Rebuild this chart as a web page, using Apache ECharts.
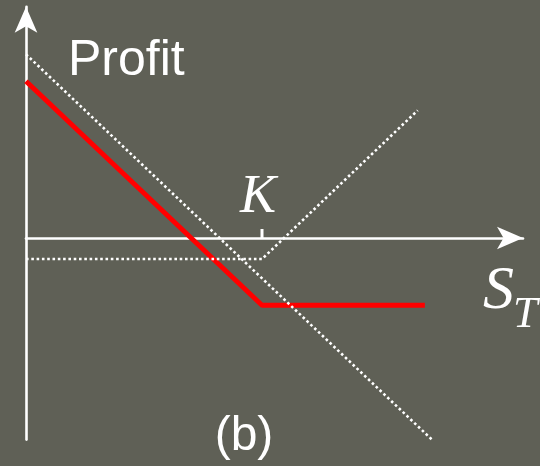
<!DOCTYPE html>
<html>
<head>
<meta charset="utf-8">
<script src="https://cdn.jsdelivr.net/npm/echarts@6/dist/echarts.min.js"></script>
<style>
    html, body { margin: 0; padding: 0; background: #5f6056; }
    #main { width: 540px; height: 466px; }
</style>
</head>
<body>
<div id="main"></div>
<script>
// strike price and the three payoff lines (S_T, profit)
const K = 50;
const stockS = [0, 86];
const stockP = [41, -45];
const callS = [0, 50, 83];
const callP = [-4.7, -4.7, 28.5];
const netS = [0, 50, 84.5];
const netP = [35, -15, -15];
const tickP = [0, 2];

const xMin = 0, xMax = 105.3;
const yMin = -45, yMax = 51.6;
const pxX = 4.72, pxY = 4.48;

const pairs = (xs, ys) => xs.map((x, i) => [x, ys[i]]);

const dotted = {
    color: '#ffffff',
    width: 2.6,
    type: [2.6, 2.7]
};

let chart = echarts.init(document.getElementById('main'));

let option = {
    backgroundColor: '#5f6056',
    animation: false,
    grid: {
        left: 26,
        top: 238 - yMax * pxY,
        width: (xMax - xMin) * pxX,
        height: (yMax - yMin) * pxY
    },
    xAxis: {
        type: 'value',
        min: xMin,
        max: xMax,
        axisLine: {
            onZero: true,
            symbol: ['none', 'arrow'],
            symbolSize: [17, 26],
            lineStyle: { color: '#ffffff', width: 2.6 }
        },
        axisTick: { show: false },
        axisLabel: { show: false },
        splitLine: { show: false }
    },
    yAxis: {
        type: 'value',
        min: yMin,
        max: yMax,
        axisLine: {
            show: true,
            onZero: false,
            symbol: ['none', 'arrow'],
            symbolSize: [17, 26],
            lineStyle: { color: '#ffffff', width: 2.6 }
        },
        axisTick: { show: false },
        axisLabel: { show: false },
        splitLine: { show: false }
    },
    series: [
        {
            type: 'line',
            data: pairs(netS, netP),
            showSymbol: false,
            lineStyle: { color: '#ff0000', width: 5 }
        },
        {
            type: 'line',
            data: pairs(stockS, stockP),
            showSymbol: false,
            lineStyle: dotted
        },
        {
            type: 'line',
            data: pairs(callS, callP),
            showSymbol: false,
            lineStyle: dotted
        },
        {
            type: 'line',
            data: pairs([K, K], tickP),
            showSymbol: false,
            lineStyle: { color: '#ffffff', width: 3 }
        }
    ],
    graphic: [
        {
            type: 'text', left: 68, top: 36,
            style: { text: 'Profit', fill: '#ffffff', font: '50px "Liberation Sans", Arial, sans-serif' }
        },
        {
            type: 'text', x: 258, y: 198,
            style: { text: 'K', fill: '#ffffff', align: 'center', verticalAlign: 'middle',
                     font: 'italic 54px "Liberation Serif", "Times New Roman", serif' }
        },
        {
            type: 'text', x: 483, y: 292,
            style: { text: 'S', fill: '#ffffff', verticalAlign: 'middle',
                     font: 'italic 62px "Liberation Serif", "Times New Roman", serif' }
        },
        {
            type: 'text', x: 513, y: 315,
            style: { text: 'T', fill: '#ffffff', verticalAlign: 'middle',
                     font: 'italic 44px "Liberation Serif", "Times New Roman", serif' }
        },
        {
            type: 'text', x: 244, y: 437,
            style: { text: '(b)', fill: '#ffffff', align: 'center', verticalAlign: 'middle',
                     font: '48px "Liberation Sans", Arial, sans-serif' }
        }
    ]
};

chart.setOption(option);
window.addEventListener('resize', chart.resize);
</script>
</body>
</html>
